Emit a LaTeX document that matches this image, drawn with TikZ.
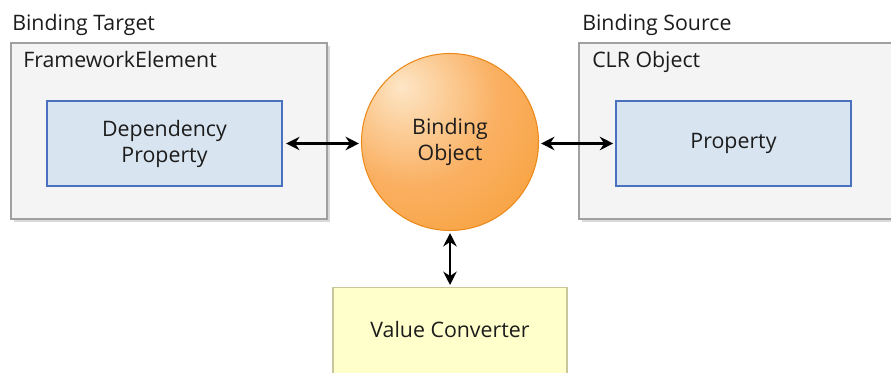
\documentclass[tikz,border=0pt]{standalone}
\usepackage{fontspec}
\setmainfont{Open Sans}
\usepackage{tikz}
\usetikzlibrary{arrows.meta, shadows}
\usepackage{xcolor}

\definecolor{panelfill}{HTML}{F4F4F4}
\definecolor{paneldraw}{HTML}{A0A0A0}
\definecolor{propfill}{HTML}{D8E4F0}
\definecolor{propdraw}{HTML}{4A70C0}
\definecolor{convfill}{HTML}{FFFFCC}
\definecolor{convdraw}{HTML}{C9C79A}
\definecolor{ballhi}{HTML}{FDE6C6}
\definecolor{ballmid}{HTML}{FAB062}
\definecolor{ballout}{HTML}{F7951F}
\definecolor{balldraw}{HTML}{EC8A1C}
\definecolor{inktext}{HTML}{1C1C1C}

\pgfdeclareradialshading{orangeball}{\pgfpoint{-14bp}{16bp}}{color(0bp)=(ballhi); color(24bp)=(ballmid); color(58bp)=(ballout); color(95bp)=(ballout)}

\tikzset{
  panel/.style={draw=paneldraw, line width=1.2pt, fill=panelfill, inner sep=0pt,
    drop shadow={opacity=0.3, shadow xshift=2pt, shadow yshift=-2pt}},
  propbox/.style={draw=propdraw, line width=1.2pt, fill=propfill, inner sep=0pt, align=center},
  convbox/.style={draw=convdraw, line width=1pt, fill=convfill, inner sep=0pt},
  caption/.style={anchor=base west, inner sep=0pt, text=inktext},
  link/.style={{Stealth[length=10pt,width=10pt]}-{Stealth[length=10pt,width=10pt]}, line width=2pt, black}
}

\begin{document}
\begin{tikzpicture}[x=0.75pt,y=0.75pt,yscale=-1,xscale=1, font=\fontsize{16}{19.5}\selectfont, text=inktext]
\path[use as bounding box] (0,0) rectangle (891,373);

% panels
\node[panel, minimum width=316*0.75pt, minimum height=176*0.75pt] (target) at (169,131) {};
\node[panel, minimum width=330*0.75pt, minimum height=176*0.75pt] (source) at (744,131) {};

% titles
\node[caption] (targettitle) at (12,31) {Binding Target};
\node[caption] (sourcetitle) at (582,31) {Binding Source};
\node[caption] (targetname) at (23,68) {FrameworkElement};
\node[caption] (sourcename) at (592,68) {CLR Object};

% properties
\node[propbox, minimum width=235*0.75pt, minimum height=85*0.75pt] (dep) at (164.5,143.5) {Dependency\\Property};
\node[propbox, minimum width=235*0.75pt, minimum height=85*0.75pt] (prop) at (733.5,143.5) {Property};

% binding object
\node[circle, draw=balldraw, line width=0.8pt, shading=orangeball, minimum size=177*0.75pt, inner sep=0pt, align=center] (bind) at (450,142) {Binding\\Object};

% value converter
\node[convbox, minimum width=234*0.75pt, minimum height=110*0.75pt, anchor=north] (conv) at (450,287) {};
\node[inner sep=0pt] (convtext) at (450,330) {Value Converter};

% connectors
\draw[link, shorten <=2.5pt, shorten >=1.5pt] (dep.east) -- (dep.east -| bind.west);
\draw[link, shorten <=1.5pt, shorten >=1.5pt] (prop.west -| bind.east) -- (prop.west);
\draw[link, shorten <=1.5pt, shorten >=1.5pt] (bind.south) -- (conv.north);

\end{tikzpicture}
\end{document}
